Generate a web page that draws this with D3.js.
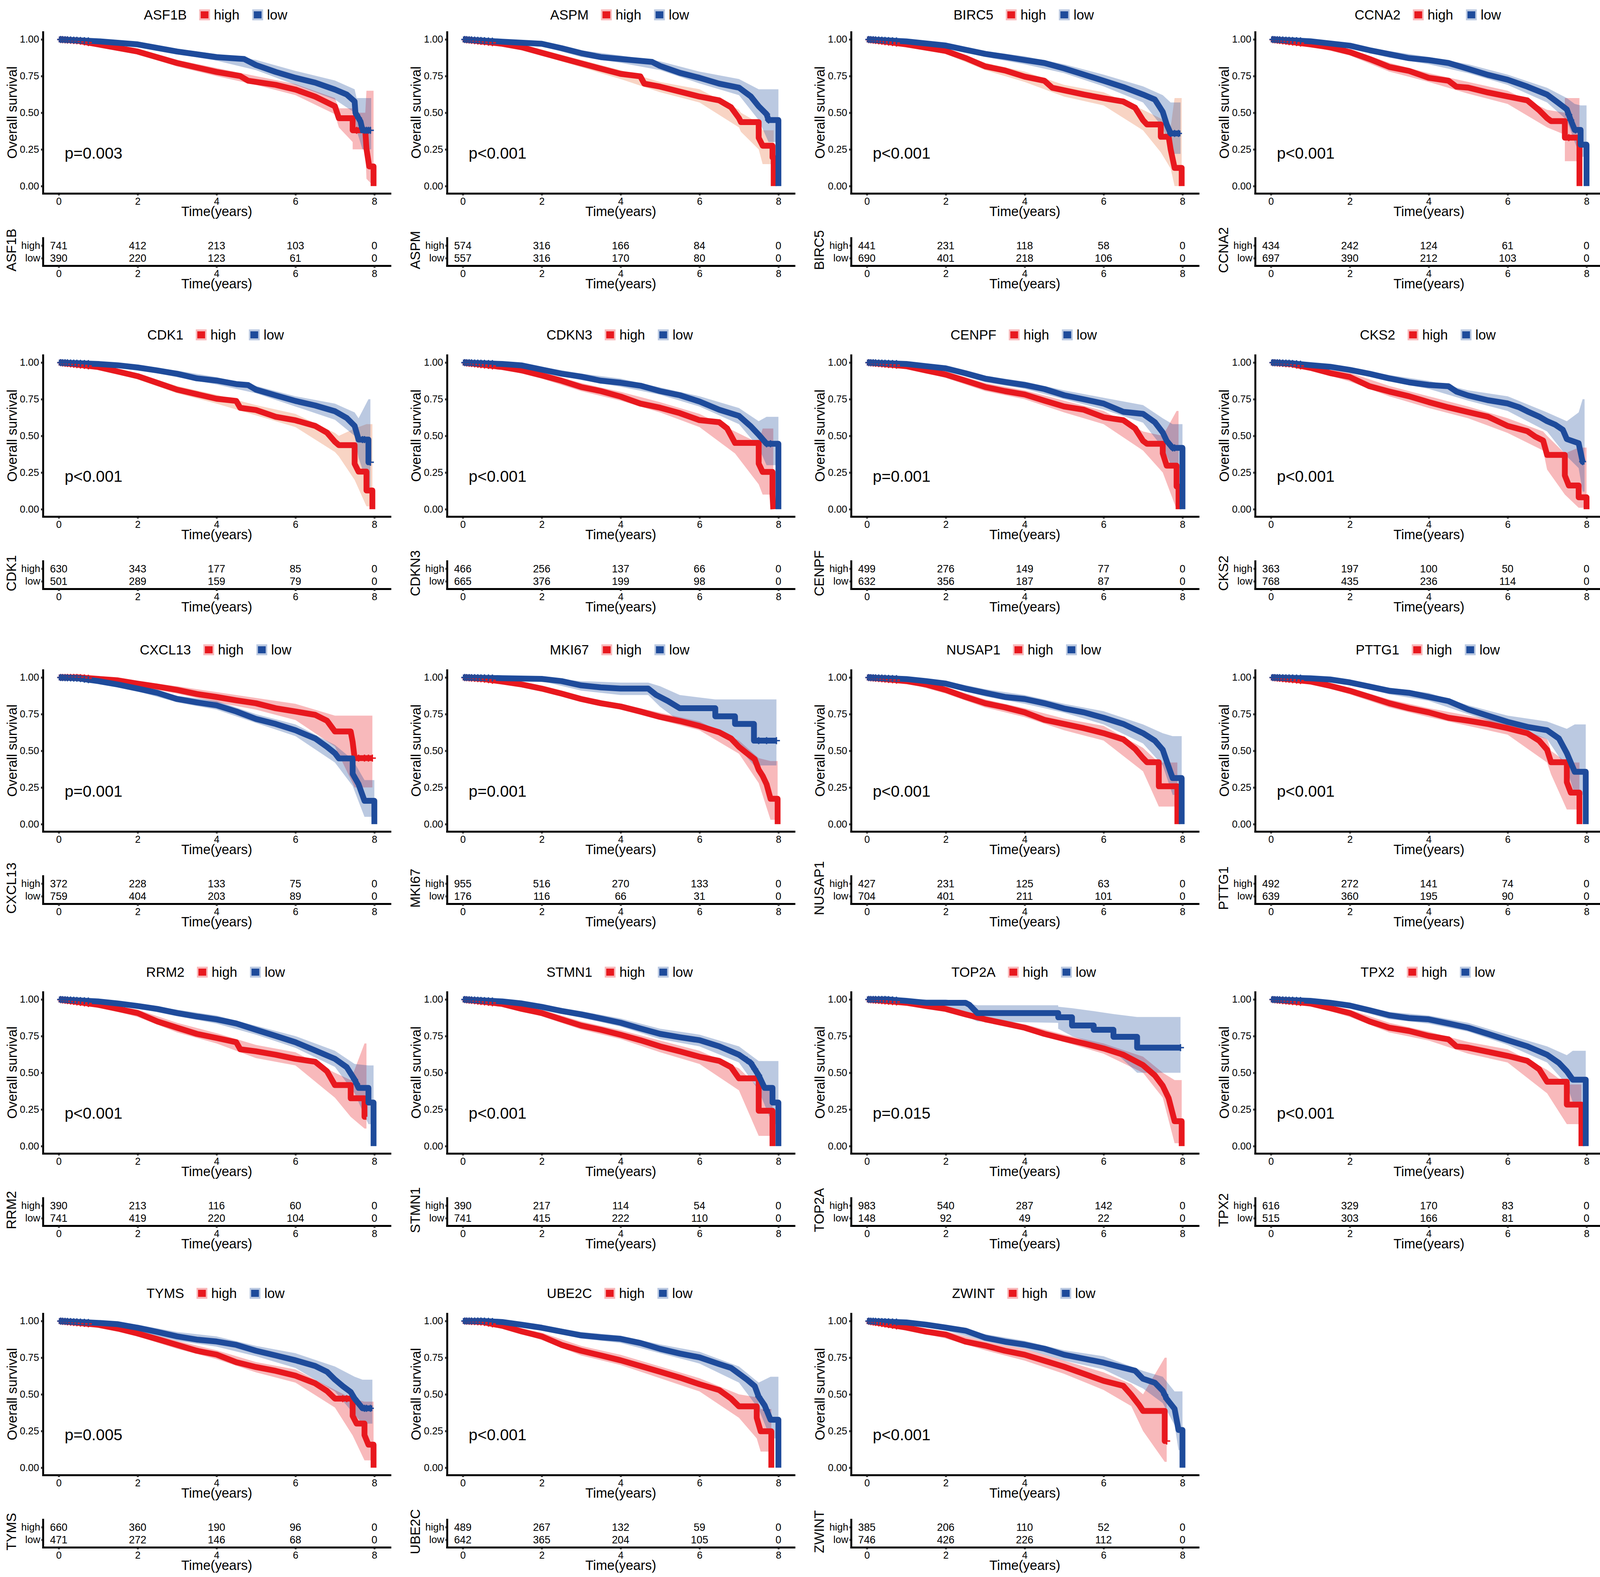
<!DOCTYPE html>
<html>
<head>
<meta charset="utf-8">
<script src="https://cdn.jsdelivr.net/npm/d3@7"></script>
<style>
html, body { margin: 0; padding: 0; background: #fff; overflow: hidden; width: 100%; height: 100%; }
#chart { width: 100vw; height: 100vh; }
svg { display: block; width: 100vw; height: 100vh; }
svg text { font-family: "Liberation Sans", Arial, sans-serif; fill: #000; }
</style>
</head>
<body>
<div id="chart"></div>
<script>
// panels, row by row
var genes = ["ASF1B", "ASPM", "BIRC5", "CCNA2", "CDK1", "CDKN3", "CENPF", "CKS2",
	"CXCL13", "MKI67", "NUSAP1", "PTTG1", "RRM2", "STMN1", "TOP2A", "TPX2",
	"TYMS", "UBE2C", "ZWINT"];
var groups = ["high", "low"];
var pLabels = ["p=0.003", "p<0.001", "p<0.001", "p<0.001", "p<0.001", "p<0.001", "p=0.001", "p<0.001",
	"p=0.001", "p=0.001", "p<0.001", "p<0.001", "p<0.001", "p<0.001", "p=0.015", "p<0.001",
	"p=0.005", "p<0.001", "p<0.001"];
var timeTicks = [0, 2, 4, 6, 8];
var survTicks = [0, 0.25, 0.5, 0.75, 1];

// number at risk
var riskHigh = [
	[741, 412, 213, 103, 0], [574, 316, 166, 84, 0], [441, 231, 118, 58, 0], [434, 242, 124, 61, 0],
	[630, 343, 177, 85, 0], [466, 256, 137, 66, 0], [499, 276, 149, 77, 0], [363, 197, 100, 50, 0],
	[372, 228, 133, 75, 0], [955, 516, 270, 133, 0], [427, 231, 125, 63, 0], [492, 272, 141, 74, 0],
	[390, 213, 116, 60, 0], [390, 217, 114, 54, 0], [983, 540, 287, 142, 0], [616, 329, 170, 83, 0],
	[660, 360, 190, 96, 0], [489, 267, 132, 59, 0], [385, 206, 110, 52, 0]];
var riskLow = [
	[390, 220, 123, 61, 0], [557, 316, 170, 80, 0], [690, 401, 218, 106, 0], [697, 390, 212, 103, 0],
	[501, 289, 159, 79, 0], [665, 376, 199, 98, 0], [632, 356, 187, 87, 0], [768, 435, 236, 114, 0],
	[759, 404, 203, 89, 0], [176, 116, 66, 31, 0], [704, 401, 211, 101, 0], [639, 360, 195, 90, 0],
	[741, 419, 220, 104, 0], [741, 415, 222, 110, 0], [148, 92, 49, 22, 0], [515, 303, 166, 81, 0],
	[471, 272, 146, 68, 0], [642, 365, 204, 105, 0], [746, 426, 226, 112, 0]];

// survival curves [time, survival]
var kmHigh = [
	[[0,1],[0.5,0.99],[1,0.966],[2,0.917],[3,0.839],[4,0.778],[4.6,0.75],[4.8,0.718],[5.5,0.69],[6,0.658],[6.5,0.61],[7,0.544],[7.1,0.463],[7.45,0.463],[7.45,0.38],[7.77,0.38],[7.8,0.255],[7.87,0.134],[7.98,0.134],[7.98,0]],
	[[0,1],[1,0.97],[1.5,0.946],[2,0.909],[2.5,0.872],[3,0.836],[3.5,0.8],[4,0.765],[4.5,0.748],[4.6,0.698],[5,0.678],[5.5,0.644],[6,0.61],[6.5,0.584],[6.8,0.537],[7,0.463],[7.05,0.436],[7.5,0.436],[7.5,0.329],[7.6,0.275],[7.85,0.275],[7.85,0.195],[7.88,0.195],[7.88,0]],
	[[0,1],[1,0.966],[2,0.921],[2.5,0.873],[3,0.816],[3.5,0.788],[4,0.746],[4.5,0.718],[4.7,0.67],[5,0.653],[5.5,0.624],[6,0.599],[6.5,0.576],[6.8,0.534],[7,0.449],[7.1,0.42],[7.45,0.42],[7.45,0.336],[7.65,0.336],[7.7,0.25],[7.8,0.124],[7.98,0.124],[7.98,0]],
	[[0,1],[1,0.966],[1.5,0.946],[2,0.913],[2.5,0.866],[3,0.812],[3.5,0.785],[4,0.738],[4.5,0.718],[4.7,0.678],[5,0.671],[5.5,0.638],[6,0.611],[6.5,0.584],[6.8,0.517],[7,0.463],[7.1,0.443],[7.45,0.443],[7.45,0.33],[7.82,0.33],[7.82,0]],
	[[0,1],[1,0.969],[1.5,0.938],[2,0.907],[2.5,0.861],[3,0.815],[3.5,0.784],[4,0.753],[4.5,0.738],[4.6,0.691],[5,0.676],[5.5,0.63],[6,0.606],[6.5,0.568],[6.8,0.522],[7,0.46],[7.1,0.437],[7.5,0.437],[7.5,0.31],[7.6,0.256],[7.8,0.256],[7.8,0.128],[7.95,0.128],[7.95,0]],
	[[0,1],[1,0.969],[1.5,0.946],[2,0.912],[2.5,0.876],[3,0.833],[3.5,0.805],[4,0.768],[4.5,0.72],[5,0.692],[5.5,0.655],[6,0.607],[6.5,0.593],[6.7,0.551],[6.9,0.452],[7.5,0.452],[7.5,0.311],[7.6,0.254],[7.85,0.254],[7.85,0.1],[7.87,0]],
	[[0,1],[1,0.975],[1.5,0.946],[2,0.918],[2.5,0.876],[3,0.833],[3.5,0.805],[4,0.782],[4.5,0.74],[5,0.7],[5.5,0.678],[6,0.627],[6.5,0.607],[6.8,0.551],[7,0.466],[7.1,0.446],[7.5,0.446],[7.5,0.381],[7.6,0.297],[7.85,0.297],[7.85,0.155],[7.9,0.155],[7.9,0]],
	[[0,1],[0.5,0.99],[1,0.964],[1.5,0.928],[2,0.901],[2.5,0.838],[3,0.802],[3.5,0.77],[4,0.73],[4.5,0.694],[5,0.662],[5.5,0.631],[6,0.568],[6.5,0.532],[6.7,0.495],[6.9,0.468],[7,0.37],[7.45,0.37],[7.45,0.23],[7.55,0.162],[7.8,0.162],[7.8,0.081],[8,0.081],[8,0]],
	[[0,1],[0.5,1],[1,0.99],[1.5,0.98],[2,0.958],[2.5,0.938],[3,0.915],[3.5,0.887],[4,0.867],[4.5,0.844],[5,0.824],[5.5,0.79],[6,0.768],[6.5,0.745],[6.8,0.705],[7,0.632],[7.4,0.632],[7.45,0.56],[7.5,0.45],[7.95,0.45]],
	[[0,1],[0.5,0.99],[1,0.972],[1.5,0.952],[2,0.924],[2.5,0.89],[3,0.853],[3.5,0.824],[4,0.802],[4.5,0.768],[5,0.731],[5.5,0.703],[6,0.669],[6.5,0.626],[6.8,0.584],[7,0.527],[7.2,0.484],[7.4,0.442],[7.5,0.371],[7.6,0.329],[7.7,0.272],[7.8,0.173],[7.98,0.173],[7.98,0]],
	[[0,1],[1,0.975],[1.5,0.952],[2,0.915],[2.5,0.867],[3,0.824],[3.5,0.796],[4,0.762],[4.5,0.711],[5,0.683],[5.5,0.654],[6,0.62],[6.5,0.578],[6.8,0.513],[7,0.45],[7.1,0.422],[7.4,0.422],[7.4,0.258],[7.87,0.258],[7.87,0]],
	[[0,1],[1,0.972],[1.5,0.943],[2,0.909],[2.5,0.867],[3,0.824],[3.5,0.79],[4,0.762],[4.5,0.725],[5,0.705],[5.5,0.683],[6,0.654],[6.5,0.62],[6.8,0.569],[7,0.507],[7.1,0.422],[7.5,0.422],[7.5,0.286],[7.6,0.215],[7.82,0.215],[7.82,0]],
	[[0,1],[1,0.963],[1.5,0.935],[2,0.907],[2.5,0.85],[3,0.807],[3.5,0.765],[4,0.737],[4.5,0.708],[4.6,0.66],[5,0.646],[5.5,0.623],[6,0.595],[6.5,0.575],[6.8,0.51],[7,0.416],[7.4,0.416],[7.4,0.326],[7.75,0.326],[7.75,0.2],[7.8,0.2]],
	[[0,1],[1,0.969],[1.5,0.935],[2,0.907],[2.5,0.864],[3,0.822],[3.5,0.793],[4,0.759],[4.5,0.722],[5,0.68],[5.5,0.646],[6,0.609],[6.5,0.581],[6.8,0.538],[7,0.462],[7.5,0.462],[7.5,0.241],[7.85,0.241],[7.85,0]],
	[[0,1],[1,0.977],[1.5,0.955],[2,0.935],[2.5,0.898],[3,0.864],[3.5,0.836],[4,0.807],[4.5,0.765],[5,0.731],[5.5,0.7],[6,0.666],[6.5,0.623],[7,0.552],[7.3,0.482],[7.5,0.411],[7.65,0.326],[7.8,0.17],[7.98,0.17],[7.98,0]],
	[[0,1],[1,0.972],[1.5,0.94],[2,0.907],[2.5,0.85],[3,0.807],[3.5,0.785],[4,0.751],[4.5,0.728],[4.7,0.68],[5,0.671],[5.5,0.643],[6,0.615],[6.5,0.581],[6.8,0.524],[7,0.439],[7.5,0.439],[7.5,0.283],[7.87,0.283],[7.87,0]],
	[[0,1],[1,0.974],[1.5,0.948],[2,0.915],[2.5,0.876],[3,0.837],[3.5,0.797],[4,0.771],[4.5,0.719],[5,0.686],[5.5,0.66],[6,0.627],[6.5,0.575],[6.8,0.523],[7,0.471],[7.45,0.471],[7.45,0.353],[7.55,0.301],[7.75,0.301],[7.75,0.222],[7.85,0.157],[7.98,0.157],[7.98,0]],
	[[0,1],[0.5,0.993],[1,0.967],[1.5,0.928],[2,0.895],[2.5,0.837],[3,0.797],[3.5,0.765],[4,0.732],[4.5,0.693],[5,0.654],[5.5,0.614],[6,0.569],[6.5,0.529],[6.8,0.471],[7,0.418],[7.45,0.418],[7.45,0.34],[7.55,0.248],[7.82,0.248],[7.82,0]],
	[[0,1],[1,0.955],[1.5,0.927],[2,0.907],[2.5,0.859],[3,0.832],[3.5,0.797],[4,0.77],[4.5,0.729],[5,0.688],[5.5,0.64],[6,0.592],[6.5,0.558],[6.7,0.497],[6.9,0.428],[7,0.387],[7.55,0.387],[7.55,0.182],[7.6,0.182]]];
var kmLow = [
	[[0,1],[1,0.987],[2,0.966],[3,0.917],[4,0.879],[4.7,0.866],[5,0.825],[5.5,0.778],[6,0.738],[6.5,0.705],[7,0.658],[7.3,0.624],[7.5,0.577],[7.52,0.5],[7.65,0.44],[7.7,0.38],[7.92,0.38]],
	[[0,1],[1,0.984],[2,0.97],[2.5,0.94],[3,0.906],[3.5,0.879],[4,0.866],[4.8,0.846],[5,0.819],[5.5,0.772],[6,0.738],[6.5,0.698],[7,0.671],[7.3,0.611],[7.5,0.544],[7.7,0.49],[7.75,0.45],[8,0.45],[8,0]],
	[[0,1],[1,0.986],[2,0.958],[2.5,0.929],[3,0.901],[3.5,0.881],[4,0.859],[4.5,0.839],[5,0.802],[5.5,0.76],[6,0.718],[6.5,0.675],[7,0.624],[7.3,0.59],[7.5,0.506],[7.6,0.42],[7.7,0.359],[7.95,0.359]],
	[[0,1],[1,0.987],[2,0.957],[2.5,0.926],[3,0.899],[3.5,0.872],[4,0.859],[4.5,0.839],[5,0.799],[5.5,0.758],[6,0.725],[6.5,0.678],[7,0.624],[7.3,0.564],[7.5,0.523],[7.6,0.45],[7.7,0.383],[7.85,0.383],[7.85,0.282],[8,0.282],[8,0]],
	[[0,1],[1,0.99],[1.5,0.981],[2,0.966],[2.5,0.946],[3,0.923],[3.5,0.892],[4,0.877],[4.5,0.853],[4.8,0.846],[5,0.815],[5.5,0.776],[6,0.738],[6.5,0.707],[7,0.668],[7.3,0.622],[7.5,0.568],[7.6,0.475],[7.85,0.475],[7.85,0.32],[7.9,0.32]],
	[[0,1],[1,0.99],[1.5,0.98],[2,0.952],[2.5,0.924],[3,0.904],[3.5,0.876],[4,0.862],[4.5,0.842],[5,0.805],[5.5,0.777],[6,0.734],[6.5,0.678],[7,0.636],[7.3,0.565],[7.5,0.508],[7.7,0.446],[8,0.446],[8,0]],
	[[0,1],[1,0.99],[1.5,0.975],[2,0.96],[2.5,0.927],[3,0.89],[3.5,0.867],[4,0.847],[4.5,0.819],[5,0.777],[5.5,0.749],[6,0.72],[6.5,0.664],[7,0.65],[7.3,0.593],[7.5,0.523],[7.6,0.466],[7.75,0.418],[8,0.418],[8,0]],
	[[0,1],[0.5,0.995],[1,0.982],[1.5,0.971],[2,0.95],[2.5,0.923],[3,0.892],[3.5,0.865],[4,0.847],[4.5,0.838],[4.7,0.802],[5,0.775],[5.5,0.743],[6,0.721],[6.3,0.694],[6.5,0.667],[6.8,0.631],[7,0.6],[7.2,0.577],[7.4,0.541],[7.5,0.478],[7.8,0.45],[7.9,0.324],[7.95,0.324]],
	[[0,1],[0.5,0.994],[1,0.975],[1.5,0.952],[2,0.924],[2.5,0.895],[3,0.853],[3.5,0.83],[4,0.81],[4.5,0.768],[5,0.717],[5.5,0.683],[6,0.64],[6.5,0.584],[6.8,0.527],[7,0.484],[7.1,0.448],[7.45,0.448],[7.45,0.343],[7.6,0.272],[7.75,0.159],[8,0.159],[8,0]],
	[[0,1],[1,0.995],[2,0.99],[2.5,0.975],[3,0.946],[3.5,0.932],[4,0.924],[4.7,0.924],[4.9,0.881],[5.2,0.839],[5.5,0.79],[6.4,0.79],[6.4,0.735],[6.9,0.735],[6.9,0.683],[7.38,0.683],[7.38,0.569],[7.95,0.569]],
	[[0,1],[1,0.989],[1.5,0.975],[2,0.958],[2.5,0.924],[3,0.895],[3.5,0.867],[4,0.853],[4.5,0.824],[5,0.788],[5.5,0.762],[6,0.725],[6.5,0.683],[7,0.62],[7.3,0.569],[7.5,0.507],[7.6,0.428],[7.75,0.314],[7.98,0.314],[7.98,0]],
	[[0,1],[1,0.994],[1.5,0.986],[2,0.966],[2.5,0.938],[3,0.909],[3.5,0.895],[4,0.867],[4.5,0.839],[5,0.782],[5.5,0.739],[6,0.697],[6.5,0.663],[7,0.64],[7.3,0.584],[7.5,0.484],[7.7,0.357],[7.98,0.357],[7.98,0]],
	[[0,1],[1,0.986],[1.5,0.972],[2,0.955],[2.5,0.935],[3,0.907],[3.5,0.884],[4,0.864],[4.5,0.836],[5,0.793],[5.5,0.751],[6,0.708],[6.5,0.652],[7,0.595],[7.3,0.538],[7.5,0.453],[7.6,0.397],[7.85,0.397],[7.85,0.297],[7.98,0.297],[7.98,0]],
	[[0,1],[1,0.986],[1.5,0.972],[2,0.949],[2.5,0.921],[3,0.898],[3.5,0.87],[4,0.841],[4.5,0.802],[5,0.765],[5.5,0.742],[6,0.722],[6.5,0.68],[7,0.623],[7.3,0.567],[7.5,0.482],[7.65,0.397],[7.85,0.397],[7.85,0.297],[8,0.297],[8,0]],
	[[0,1],[0.5,1],[1,0.99],[1.5,0.977],[2.5,0.977],[2.6,0.963],[2.8,0.907],[4.85,0.907],[4.85,0.878],[5.2,0.878],[5.2,0.822],[5.75,0.822],[5.75,0.793],[6.25,0.793],[6.25,0.745],[6.85,0.745],[6.85,0.671],[7.95,0.671]],
	[[0,1],[1,0.99],[1.5,0.977],[2,0.958],[2.5,0.926],[3,0.892],[3.5,0.873],[4,0.864],[4.5,0.836],[5,0.807],[5.5,0.765],[6,0.722],[6.5,0.68],[7,0.623],[7.3,0.567],[7.5,0.51],[7.65,0.453],[7.98,0.453],[7.98,0]],
	[[0,1],[1,0.987],[1.5,0.978],[2,0.954],[2.5,0.925],[3,0.895],[3.5,0.873],[4,0.86],[4.5,0.837],[5,0.797],[5.5,0.765],[6,0.732],[6.5,0.693],[6.8,0.654],[7,0.601],[7.2,0.556],[7.4,0.516],[7.5,0.471],[7.7,0.405],[7.95,0.405]],
	[[0,1],[0.5,1],[1,0.993],[1.5,0.974],[2,0.954],[2.5,0.928],[3,0.902],[3.5,0.889],[4,0.878],[4.5,0.85],[5,0.81],[5.5,0.778],[6,0.752],[6.5,0.706],[6.8,0.68],[7,0.641],[7.2,0.601],[7.4,0.556],[7.5,0.484],[7.65,0.425],[7.8,0.327],[8,0.327],[8,0]],
	[[0,1],[1,0.99],[1.5,0.975],[2,0.955],[2.5,0.934],[3,0.886],[3.5,0.859],[4,0.839],[4.5,0.811],[5,0.77],[5.5,0.743],[6,0.716],[6.5,0.681],[6.8,0.661],[7,0.606],[7.3,0.579],[7.5,0.524],[7.6,0.469],[7.8,0.401],[7.9,0.257],[8,0.257],[8,0]]];

// confidence bands [time, lower, upper]
var ciHigh = [
	[[0,1,1],[1,0.955,0.977],[2,0.9,0.933],[3,0.815,0.86],[4,0.75,0.805],[5,0.69,0.75],[6,0.62,0.695],[7,0.49,0.6],[7.1,0.4,0.53],[7.45,0.3,0.53],[7.45,0.25,0.5],[7.77,0.25,0.5],[7.8,0.05,0.65],[7.98,0,0.65]],
	[[0,1,1],[1,0.96,0.98],[2,0.89,0.93],[3,0.81,0.86],[4,0.73,0.79],[5,0.64,0.71],[6,0.57,0.66],[7,0.4,0.52],[7.05,0.37,0.5],[7.5,0.25,0.43],[7.6,0.15,0.38],[7.88,0.15,0.38]],
	[[0,1,1],[1,0.955,0.975],[2,0.9,0.94],[3,0.79,0.84],[4,0.71,0.78],[5,0.61,0.69],[6,0.55,0.64],[7,0.38,0.52],[7.45,0.23,0.46],[7.7,0.12,0.4],[7.8,0,0.6],[7.98,0,0.6]],
	[[0,1,1],[1,0.955,0.977],[2,0.89,0.935],[3,0.78,0.84],[4,0.71,0.77],[5,0.63,0.71],[6,0.56,0.65],[7,0.4,0.52],[7.45,0.35,0.5],[7.45,0.17,0.6],[7.82,0.17,0.6]],
	[[0,1,1],[1,0.958,0.98],[2,0.885,0.925],[3,0.79,0.84],[4,0.72,0.78],[5,0.64,0.71],[6,0.56,0.65],[7,0.39,0.52],[7.1,0.36,0.5],[7.5,0.2,0.55],[7.8,0.02,0.58],[7.95,0.02,0.58]],
	[[0,1,1],[1,0.958,0.98],[2,0.89,0.935],[3,0.805,0.86],[4,0.74,0.8],[5,0.66,0.73],[6,0.56,0.65],[6.9,0.38,0.53],[7.5,0.17,0.45],[7.6,0.1,0.55],[7.87,0.1,0.55]],
	[[0,1,1],[1,0.965,0.985],[2,0.895,0.94],[3,0.805,0.86],[4,0.75,0.81],[5,0.66,0.74],[6,0.58,0.67],[7,0.4,0.53],[7.5,0.25,0.5],[7.85,0,0.67],[7.9,0,0.67]],
	[[0,1,1],[1,0.95,0.978],[2,0.87,0.93],[3,0.77,0.84],[4,0.69,0.77],[5,0.62,0.7],[6,0.52,0.62],[6.9,0.4,0.53],[7,0.27,0.5],[7.45,0.1,0.38],[7.8,0.01,0.42],[8,0.01,0.42]],
	[[0,1,1],[1,0.98,1],[2,0.94,0.975],[3,0.89,0.94],[4,0.83,0.9],[5,0.78,0.86],[6,0.71,0.82],[7,0.53,0.74],[7.5,0.25,0.74],[7.95,0.25,0.74]],
	[[0,1,1],[1,0.963,0.98],[2,0.91,0.937],[3,0.835,0.87],[4,0.78,0.82],[5,0.71,0.76],[6,0.64,0.7],[7,0.48,0.57],[7.5,0.28,0.45],[7.8,0.03,0.43],[7.98,0.03,0.43]],
	[[0,1,1],[1,0.965,0.985],[2,0.89,0.935],[3,0.795,0.85],[4,0.73,0.79],[5,0.64,0.72],[6,0.57,0.67],[7,0.36,0.52],[7.4,0.12,0.42],[7.87,0.12,0.42]],
	[[0,1,1],[1,0.962,0.982],[2,0.885,0.93],[3,0.795,0.85],[4,0.73,0.79],[5,0.67,0.74],[6,0.61,0.69],[7,0.42,0.58],[7.1,0.34,0.5],[7.5,0.1,0.42],[7.82,0.1,0.42]],
	[[0,1,1],[1,0.95,0.975],[2,0.88,0.93],[3,0.775,0.84],[4,0.7,0.77],[5,0.6,0.69],[6,0.55,0.64],[7,0.33,0.5],[7.4,0.2,0.45],[7.75,0.12,0.7],[7.8,0.12,0.7]],
	[[0,1,1],[1,0.958,0.98],[2,0.885,0.93],[3,0.795,0.85],[4,0.73,0.79],[5,0.64,0.72],[6,0.56,0.65],[7,0.38,0.53],[7.5,0.07,0.4],[7.85,0.07,0.4]],
	[[0,1,1],[1,0.97,0.985],[2,0.92,0.95],[3,0.845,0.885],[4,0.79,0.83],[5,0.71,0.76],[6,0.63,0.7],[7,0.5,0.61],[7.5,0.33,0.5],[7.8,0.02,0.45],[7.98,0.02,0.45]],
	[[0,1,1],[1,0.96,0.982],[2,0.88,0.93],[3,0.775,0.84],[4,0.72,0.78],[5,0.63,0.71],[6,0.57,0.66],[7,0.36,0.52],[7.5,0.15,0.42],[7.87,0.15,0.42]],
	[[0,1,1],[1,0.965,0.985],[2,0.895,0.935],[3,0.81,0.865],[4,0.74,0.8],[5,0.65,0.72],[6,0.58,0.67],[7,0.41,0.53],[7.45,0.22,0.47],[7.75,0.05,0.45],[7.98,0.05,0.45]],
	[[0,1,1],[1,0.955,0.978],[2,0.87,0.92],[3,0.765,0.83],[4,0.7,0.77],[5,0.61,0.69],[6,0.52,0.61],[7,0.34,0.5],[7.45,0.2,0.48],[7.55,0.11,0.4],[7.82,0.11,0.4]],
	[[0,1,1],[1,0.94,0.97],[2,0.88,0.93],[3,0.8,0.86],[4,0.73,0.81],[5,0.64,0.73],[6,0.53,0.65],[6.7,0.42,0.57],[7,0.25,0.5],[7.55,0.04,0.75],[7.6,0.04,0.75]]];
var ciLow = [
	[[0,1,1],[1,0.98,0.995],[2,0.955,0.978],[3,0.9,0.935],[4,0.855,0.9],[5,0.79,0.86],[6,0.69,0.785],[7,0.59,0.72],[7.5,0.5,0.66],[7.55,0.38,0.6],[7.7,0.25,0.6],[7.92,0.25,0.6]],
	[[0,1,1],[1,0.975,0.99],[2,0.955,0.98],[3,0.88,0.925],[4,0.84,0.89],[5,0.79,0.85],[6,0.7,0.78],[7,0.62,0.73],[7.5,0.45,0.66],[7.75,0.3,0.66],[8,0.3,0.66]],
	[[0,1,1],[1,0.978,0.993],[2,0.945,0.97],[3,0.88,0.92],[4,0.83,0.885],[5,0.77,0.83],[6,0.68,0.76],[7,0.57,0.68],[7.5,0.4,0.62],[7.7,0.22,0.57],[7.95,0.22,0.57]],
	[[0,1,1],[1,0.98,0.995],[2,0.94,0.97],[3,0.875,0.92],[4,0.83,0.88],[5,0.77,0.83],[6,0.69,0.76],[7,0.57,0.67],[7.5,0.45,0.6],[7.7,0.3,0.56],[7.85,0.2,0.55],[8,0.2,0.55]],
	[[0,1,1],[1,0.983,0.997],[2,0.952,0.978],[3,0.9,0.945],[4,0.85,0.9],[5,0.79,0.84],[6,0.7,0.77],[7,0.61,0.72],[7.5,0.5,0.66],[7.6,0.35,0.62],[7.85,0.15,0.75],[7.9,0.15,0.75]],
	[[0,1,1],[1,0.982,0.997],[2,0.935,0.97],[3,0.88,0.925],[4,0.835,0.89],[5,0.78,0.83],[6,0.7,0.77],[7,0.58,0.69],[7.5,0.42,0.6],[7.7,0.3,0.63],[8,0.3,0.63]],
	[[0,1,1],[1,0.982,0.997],[2,0.945,0.975],[3,0.865,0.91],[4,0.82,0.87],[5,0.75,0.81],[6,0.68,0.76],[7,0.59,0.71],[7.5,0.42,0.62],[7.75,0.28,0.58],[8,0.28,0.58]],
	[[0,1,1],[1,0.975,0.99],[2,0.935,0.965],[3,0.87,0.915],[4,0.82,0.875],[5,0.74,0.81],[6,0.67,0.77],[7,0.53,0.66],[7.5,0.36,0.6],[7.8,0.28,0.66],[7.9,0.12,0.75],[7.95,0.12,0.75]],
	[[0,1,1],[1,0.965,0.985],[2,0.905,0.94],[3,0.83,0.875],[4,0.78,0.84],[5,0.69,0.75],[6,0.6,0.68],[7,0.42,0.54],[7.45,0.26,0.44],[7.75,0.05,0.3],[8,0.05,0.3]],
	[[0,1,1],[1,0.985,1],[2,0.975,1],[3,0.91,0.975],[4,0.88,0.965],[4.7,0.88,0.965],[5,0.8,0.94],[5.5,0.7,0.88],[6.4,0.64,0.85],[6.9,0.55,0.85],[7.38,0.4,0.85],[7.95,0.4,0.85]],
	[[0,1,1],[1,0.98,0.997],[2,0.94,0.975],[3,0.87,0.92],[4,0.82,0.88],[5,0.76,0.82],[6,0.68,0.77],[7,0.55,0.68],[7.5,0.4,0.62],[7.75,0.2,0.6],[7.98,0.2,0.6]],
	[[0,1,1],[1,0.985,1],[2,0.95,0.98],[3,0.885,0.93],[4,0.84,0.895],[5,0.75,0.81],[6,0.66,0.74],[7,0.58,0.7],[7.5,0.38,0.65],[7.7,0.2,0.68],[7.98,0.2,0.68]],
	[[0,1,1],[1,0.978,0.994],[2,0.94,0.97],[3,0.885,0.93],[4,0.835,0.89],[5,0.76,0.82],[6,0.67,0.75],[7,0.54,0.65],[7.5,0.36,0.56],[7.85,0.15,0.55],[7.98,0.15,0.55]],
	[[0,1,1],[1,0.978,0.994],[2,0.93,0.965],[3,0.875,0.92],[4,0.815,0.87],[5,0.73,0.8],[6,0.68,0.76],[7,0.57,0.68],[7.5,0.38,0.58],[7.85,0.15,0.58],[8,0.15,0.58]],
	[[0,1,1],[1,0.97,1],[2,0.95,1],[2.8,0.85,0.96],[4.85,0.84,0.96],[4.85,0.8,0.95],[5.2,0.75,0.94],[5.75,0.7,0.92],[6.25,0.65,0.9],[6.85,0.5,0.88],[7.95,0.5,0.88]],
	[[0,1,1],[1,0.982,0.997],[2,0.94,0.975],[3,0.865,0.915],[4,0.835,0.89],[5,0.78,0.84],[6,0.69,0.76],[7,0.57,0.68],[7.5,0.42,0.62],[7.65,0.3,0.65],[7.98,0.3,0.65]],
	[[0,1,1],[1,0.978,0.995],[2,0.93,0.975],[3,0.865,0.925],[4,0.825,0.895],[5,0.76,0.83],[6,0.68,0.78],[7,0.52,0.69],[7.5,0.36,0.62],[7.7,0.3,0.6],[7.95,0.3,0.6]],
	[[0,1,1],[1,0.985,1],[2,0.94,0.97],[3,0.88,0.925],[4,0.85,0.9],[5,0.78,0.84],[6,0.71,0.79],[7,0.58,0.69],[7.5,0.4,0.58],[7.8,0.2,0.62],[8,0.2,0.62]],
	[[0,1,1],[1,0.982,0.997],[2,0.935,0.972],[3,0.86,0.91],[4,0.81,0.865],[5,0.73,0.8],[6,0.67,0.76],[7,0.54,0.66],[7.5,0.44,0.62],[7.8,0.29,0.52],[7.9,0.12,0.52],[8,0.12,0.52]]];

// censoring ticks (years)
var earlyCensor = [0.05, 0.1, 0.16, 0.22, 0.3, 0.38, 0.46, 0.55, 0.65, 0.75];
var censHigh = [[7.55], [], [], [7.55], [], [], [], [], [7.6, 7.75, 7.85, 7.95], [], [], [], [], [], [], [], [7.2, 7.3], [], [7.6]];
var censLow = [[7.55, 7.6, 7.75, 7.8, 7.85, 7.9], [7.65, 7.7, 7.75], [7.7, 7.8, 7.9], [7.55, 7.6, 7.72], [7.7, 7.75, 7.9],
	[7.7, 7.8], [7.75, 7.8], [7.9], [], [7.5, 7.7, 7.95], [], [], [7.5, 7.55], [7.2, 7.3, 7.4, 7.5], [7.95], [],
	[7.5, 7.75, 7.8, 7.9], [7.5, 7.7], [7.55, 7.6]];

// magic numbers
var W = 4134, H = 4036;
var colStep = 1044;
var rowTops = [0, 827, 1633, 2457, 3280];
var titleMid = [38, 30, 30, 31, 30];
var colors = {high: "#E8181E", low: "#1E4B9B"};
// a few panels have a peach rather than pink band for the high group
var peachBand = {ASPM: true, BIRC5: true, CDK1: true};
var peach = "#E8703A";

// the drawing is laid out in a 4134 x 4036 frame and fills the window
var svg = d3.select("#chart").append("svg")
		.attr("viewBox", "0 0 " + W + " " + H)
		.attr("preserveAspectRatio", "none");
svg.append("rect").attr("width", W).attr("height", H).attr("fill", "#fff");

function survAt(pts, t) {
	for (var k = pts.length - 1; k >= 0; k--) {
		if (pts[k][0] <= t) {
			if (k === pts.length - 1 || pts[k + 1][0] === pts[k][0]) return pts[k][1];
			var f = (t - pts[k][0]) / (pts[k + 1][0] - pts[k][0]);
			return pts[k][1] + f * (pts[k + 1][1] - pts[k][1]);
		}
	}
	return pts[0][1];
}

function styleAxis(g, fs) {
	g.attr("font-family", null).attr("font-size", fs);
	g.select(".domain").attr("stroke", "#000").attr("stroke-width", 5).attr("stroke-linecap", "square");
	g.selectAll(".tick line").attr("stroke", "#222").attr("stroke-width", 5);
	g.selectAll(".tick text").attr("fill", "#000");
}

function drawPanel(p, i, tMid) {
	var x = d3.scaleLinear().domain([-0.4, 8.4]).range([111, 1008]);
	var y = d3.scaleLinear().domain([-0.05, 1.05]).range([495, 82]);

	// title + legend
	var lg = p.append("g");
	var t0 = lg.append("text").attr("x", 0).attr("y", tMid + 12.5).attr("font-size", 35).text(genes[i]);
	var cx = t0.node().getComputedTextLength() + 32;
	groups.forEach(function(gr) {
		lg.append("rect").attr("x", cx).attr("y", tMid - 14).attr("width", 28).attr("height", 28)
			.attr("fill", colors[gr]).attr("fill-opacity", 0.3);
		lg.append("rect").attr("x", cx + 4).attr("y", tMid - 9).attr("width", 20).attr("height", 18)
			.attr("fill", colors[gr]);
		cx += 38;
		var tt = lg.append("text").attr("x", cx).attr("y", tMid + 12.5).attr("font-size", 35).text(gr);
		cx += tt.node().getComputedTextLength() + 33;
	});
	cx -= 33;
	lg.attr("transform", "translate(" + (557 - cx / 2) + ",0)");

	var area = d3.area()
		.x(function(d) { return x(d[0]); })
		.y0(function(d) { return y(d[1]); })
		.y1(function(d) { return y(d[2]); });
	var line = d3.line()
		.x(function(d) { return x(d[0]); })
		.y(function(d) { return y(d[1]); });

	var curves = {high: kmHigh[i], low: kmLow[i]};
	var bands = {high: ciHigh[i], low: ciLow[i]};
	var cens = {high: earlyCensor.concat(censHigh[i]), low: earlyCensor.concat(censLow[i])};
	var bandFill = {high: peachBand[genes[i]] ? peach : colors.high, low: colors.low};

	groups.forEach(function(gr) {
		p.append("path").datum(bands[gr]).attr("d", area)
			.attr("fill", bandFill[gr]).attr("fill-opacity", 0.3);
	});
	groups.forEach(function(gr) {
		p.append("path").datum(curves[gr]).attr("d", line)
			.attr("fill", "none").attr("stroke", colors[gr]).attr("stroke-width", 15)
			.attr("stroke-linejoin", "round");
	});
	groups.forEach(function(gr) {
		p.selectAll(null).data(cens[gr]).enter().append("path")
			.attr("transform", function(d) { return "translate(" + x(d) + "," + y(survAt(curves[gr], d)) + ")"; })
			.attr("d", "M-9,0H9M0,-9V9")
			.attr("stroke", colors[gr]).attr("stroke-width", 3.5).attr("fill", "none");
	});

	var yAxis = d3.axisLeft(y).tickValues(survTicks).tickFormat(d3.format(".2f"))
		.tickSize(5).tickPadding(5).tickSizeOuter(0);
	var xAxis = d3.axisBottom(x).tickValues(timeTicks).tickSize(5).tickPadding(6).tickSizeOuter(0);
	p.append("g").attr("transform", "translate(0,495)").call(xAxis).call(styleAxis, 25.6);
	p.append("g").attr("transform", "translate(111,0)").call(yAxis).call(styleAxis, 25.6);

	p.append("text").attr("transform", "translate(43,288) rotate(-90)")
		.attr("text-anchor", "middle").attr("font-size", 34.6).text("Overall survival");
	p.append("text").attr("x", 560).attr("y", 553)
		.attr("text-anchor", "middle").attr("font-size", 34.6).text("Time(years)");
	p.append("text").attr("x", 167).attr("y", 406).attr("font-size", 41).text(pLabels[i]);

	// risk table
	var yt = d3.scaleLinear().domain([0.4, 2.6]).range([680, 609]);
	var rowOf = {high: 2, low: 1};
	var risk = {high: riskHigh[i], low: riskLow[i]};
	groups.forEach(function(gr) {
		p.selectAll(null).data(risk[gr]).enter().append("text")
			.attr("x", function(d, k) { return x(timeTicks[k]); })
			.attr("y", yt(rowOf[gr]))
			.attr("dy", "0.36em")
			.attr("text-anchor", "middle")
			.attr("font-size", 27)
			.text(function(d) { return d; });
	});
	var ytAxis = d3.axisLeft(yt).tickValues([2, 1])
		.tickFormat(function(d) { return d === 2 ? groups[0] : groups[1]; })
		.tickSize(4).tickPadding(3).tickSizeOuter(0);
	var gt = p.append("g").attr("transform", "translate(111,0)").call(ytAxis).call(styleAxis, 26);
	gt.selectAll(".tick text").attr("fill", function(d) { return d === 2 ? colors.high : colors.low; });
	var xtAxis = d3.axisBottom(x).tickValues(timeTicks).tickSize(5).tickPadding(6).tickSizeOuter(0);
	p.append("g").attr("transform", "translate(0,680)").call(xtAxis).call(styleAxis, 25.6);

	p.append("text").attr("x", 560).attr("y", 738)
		.attr("text-anchor", "middle").attr("font-size", 34.6).text("Time(years)");
	p.append("text").attr("transform", "translate(41,640) rotate(-90)")
		.attr("text-anchor", "middle").attr("font-size", 34.6).text(genes[i]);
}

genes.forEach(function(g, i) {
	var col = i % 4, row = Math.floor(i / 4);
	var p = svg.append("g")
		.attr("transform", "translate(" + (col * colStep) + "," + rowTops[row] + ")");
	drawPanel(p, i, titleMid[row]);
});
</script>
</body>
</html>
